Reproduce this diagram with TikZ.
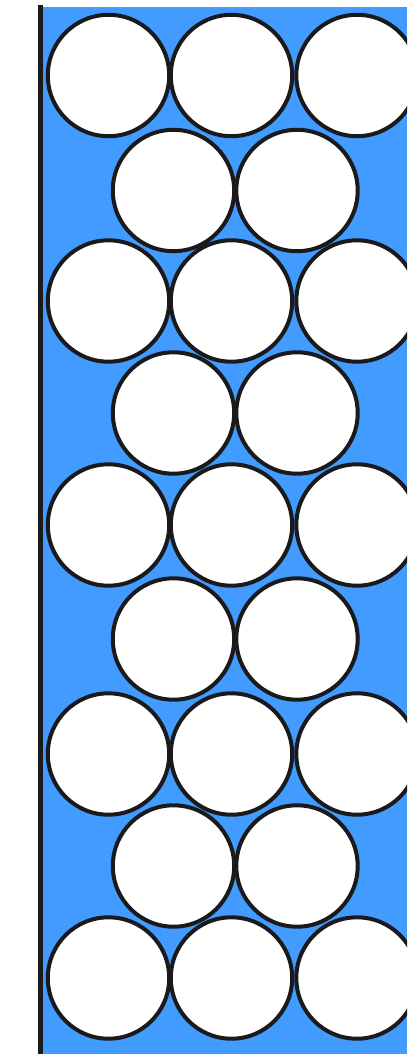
\documentclass[tikz,border=0pt]{standalone}
\usepackage{tikz}
\definecolor{waterblue}{RGB}{66,155,255}
\definecolor{inkblack}{RGB}{26,26,28}
\begin{document}
\begin{tikzpicture}[x=1pt, y=-1pt,
        ball/.style={draw=inkblack, fill=white, line width=4pt},
        wall/.style={draw=inkblack, line width=4.2pt}]
        % Bildbereich
        \useasboundingbox (0,0) rectangle (407,1054);
        \clip (0,0) rectangle (407,1054);
        % Wasser
        \fill[waterblue] (41,7) rectangle (407,1054);
        % Kugeln, Reihen mit drei
        \foreach \y in {75.5,301,525,754,978}
            \foreach \x in {108.5,231.5,357}
                \draw[ball] (\x,\y) circle (60.7);
        % Kugeln, Reihen mit zwei
        \foreach \y in {190.5,413,639,866}
            \foreach \x in {173.5,297}
                \draw[ball] (\x,\y) circle (60.7);
        % Wand
        \draw[wall] (40.5,5) -- (40.5,1054);
\end{tikzpicture}
\end{document}
